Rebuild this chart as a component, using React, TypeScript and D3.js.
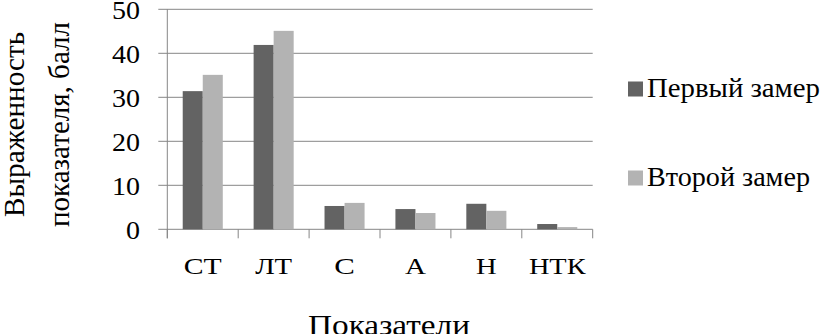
import React from "react";
import * as d3 from "d3";

const categories = ["СТ", "ЛТ", "С", "А", "Н", "НТК"];
const seriesNames = ["Первый замер", "Второй замер"];
const firstValues = [31.4, 41.9, 5.3, 4.6, 5.8, 1.2];
const secondValues = [35.1, 45.1, 6.0, 3.7, 4.2, 0.5];
const yTicks = [0, 10, 20, 30, 40, 50];
const colors = ["#636363", "#b3b3b3"];
const yTitleLines = ["Выраженность", "показателя, балл"];
const xTitle = "Показатели";

const W = 823;
const H = 334;
const left = 167.3;
const right = 592.7;
const top = 9.3;
const bottom = 229.3;
const FONT = "Liberation Serif";
const GRID = "#868686";

// per-text horizontal extents (styling only), px
const catLabelWidth: Record<string, number> = { "СТ": 38, "ЛТ": 37, "С": 20.6, "А": 21, "Н": 20.7, "НТК": 56.7 };
const legendWidth = [173, 163];
const yTitleWidth = [185, 205];

export default function App() {
  const x = d3.scaleBand<string>().domain(categories).range([left, right]).paddingInner(0).paddingOuter(0);
  const sub = d3.scaleBand<string>().domain(seriesNames).range([0, x.bandwidth()]).paddingInner(0).paddingOuter(0.77);
  const y = d3.scaleLinear().domain([0, 50]).range([bottom, top]);
  const values = [firstValues, secondValues];
  const tickXs = categories.map((c) => x(c) as number).concat([right]);

  return (
    <div style={{ fontFamily: "'Liberation Serif', serif" }}>
      <svg width={W} height={H} style={{ position: "absolute", left: 0, top: 0 }} fontFamily={FONT}>
        <style>{`text { font-family: "Liberation Serif", "Times New Roman", serif; }`}</style>
        <rect x={0} y={0} width={W} height={H} fill="#fff" />
        {yTicks.map((t) => (
          <g key={t}>
            <line x1={left - 9} x2={right} y1={y(t)} y2={y(t)} stroke={GRID} strokeWidth={1} />
            <text
              x={140}
              y={y(t) + 9.5}
              textAnchor="end"
              fontSize={25}
              fontFamily={FONT}
              textLength={String(t).length * 14}
              lengthAdjust="spacingAndGlyphs"
            >
              {t}
            </text>
          </g>
        ))}
        <line x1={left} x2={left} y1={top} y2={bottom + 9} stroke={GRID} strokeWidth={1} />
        {tickXs.map((tx, i) => (
          <line key={i} x1={tx} x2={tx} y1={bottom} y2={bottom + 9} stroke={GRID} strokeWidth={1} />
        ))}
        {seriesNames.map((s, si) =>
          categories.map((c, ci) => (
            <rect
              key={s + c}
              x={(x(c) as number) + (sub(s) as number)}
              y={y(values[si][ci])}
              width={sub.bandwidth()}
              height={bottom - y(values[si][ci])}
              fill={colors[si]}
            />
          ))
        )}
        {categories.map((c) => (
          <text
            key={c}
            x={(x(c) as number) + x.bandwidth() / 2 - catLabelWidth[c] / 2}
            y={273.5}
            fontSize={24}
            fontFamily={FONT}
            textLength={catLabelWidth[c]}
            lengthAdjust="spacingAndGlyphs"
          >
            {c}
          </text>
        ))}
        <text x={308} y={334.5} fontSize={29} fontFamily={FONT} textLength={162} lengthAdjust="spacingAndGlyphs">
          {xTitle}
        </text>
        <text
          transform={`translate(23.5,217) rotate(-90)`}
          fontSize={29}
          fontFamily={FONT}
          textLength={yTitleWidth[0]}
          lengthAdjust="spacingAndGlyphs"
        >
          {yTitleLines[0]}
        </text>
        <text
          transform={`translate(68.5,227) rotate(-90)`}
          fontSize={29}
          fontFamily={FONT}
          textLength={yTitleWidth[1]}
          lengthAdjust="spacingAndGlyphs"
        >
          {yTitleLines[1]}
        </text>
        {seriesNames.map((s, i) => {
          const by = i === 0 ? 96.5 : 185.5;
          return (
            <g key={s}>
              <rect x={628} y={by - 15} width={15} height={15} fill={colors[i]} />
              <text
                x={647}
                y={by}
                fontSize={27}
                fontFamily={FONT}
                textLength={legendWidth[i]}
                lengthAdjust="spacingAndGlyphs"
              >
                {s}
              </text>
            </g>
          );
        })}
      </svg>
    </div>
  );
}
